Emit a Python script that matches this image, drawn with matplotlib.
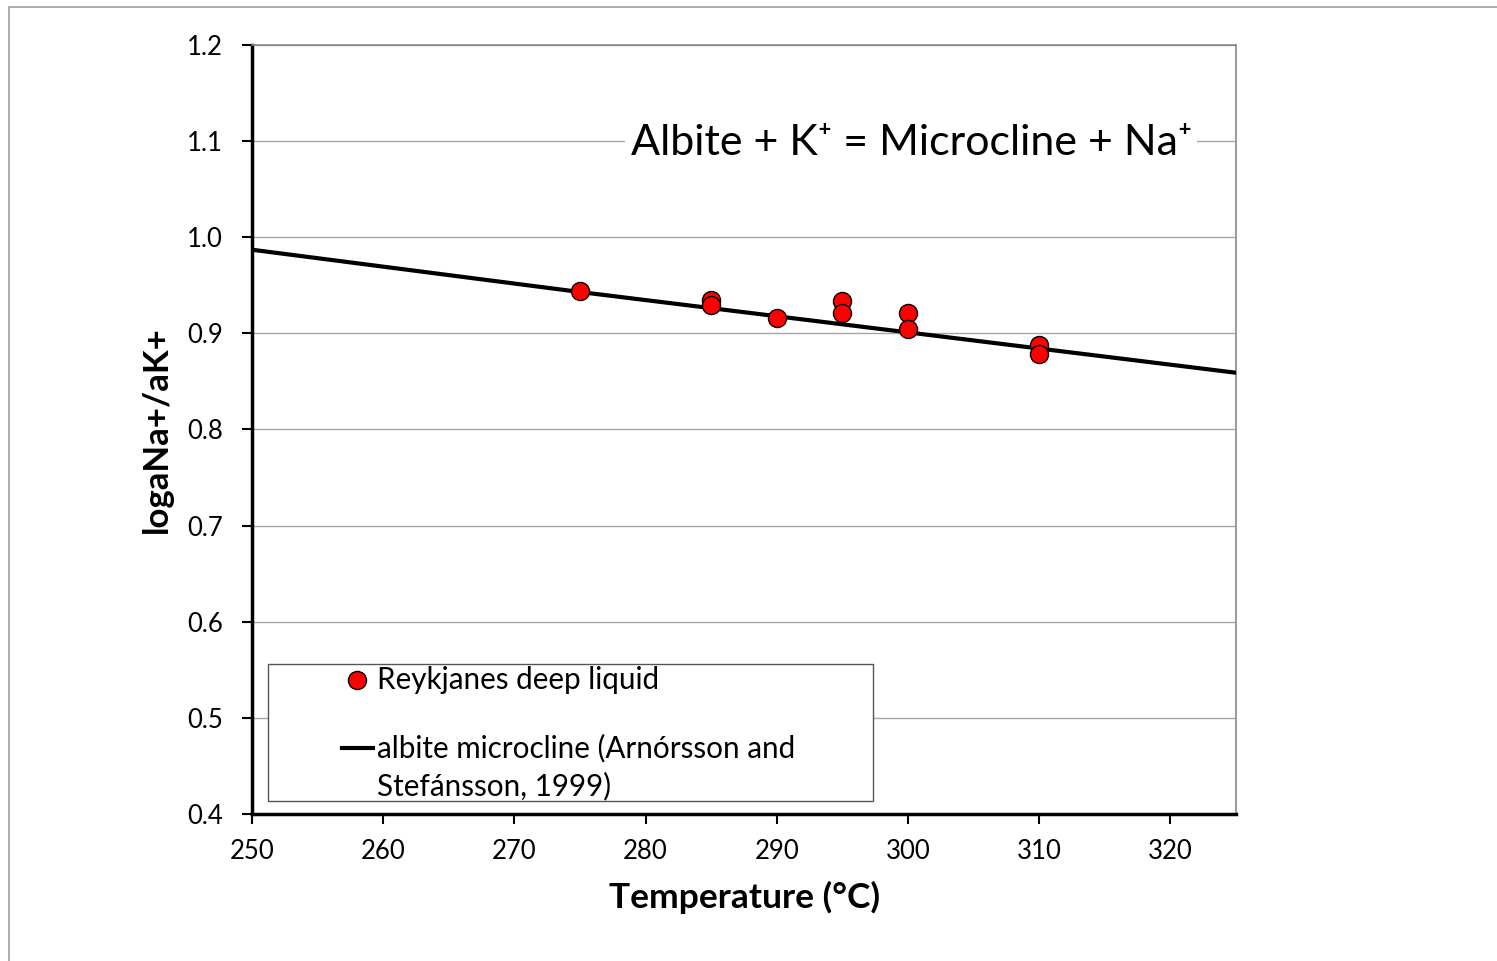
import matplotlib
matplotlib.use('Agg')
from matplotlib import pyplot as plt
from matplotlib.patches import Rectangle

plt.rcParams['font.family'] = ['Lato', 'DejaVu Sans']

# Reykjanes deep liquid samples
sample_temp = [275, 285, 285, 290, 295, 295, 300, 300, 310, 310]
sample_ratio = [0.944, 0.935, 0.930, 0.916, 0.934, 0.921, 0.921, 0.905, 0.888, 0.878]

# albite-microcline equilibrium (Arnorsson and Stefansson, 1999)
eq_temp = [250, 275, 300, 325]
eq_ratio = [0.987, 0.943, 0.901, 0.859]

x_ticks = [250, 260, 270, 280, 290, 300, 310, 320]
y_ticks = [0.4, 0.5, 0.6, 0.7, 0.8, 0.9, 1.0, 1.1, 1.2]

fig = plt.figure(figsize=(14.97, 9.61), dpi=100)
ax = fig.add_axes([0.1683, 0.1530, 0.6574, 0.8002])

# outer chart frame
fig.patches.append(Rectangle((0.006, -0.1), 1.2, 1.093, transform=fig.transFigure,
                             fill=False, edgecolor='#a0a0a0', linewidth=1.2))

ax.plot(eq_temp, eq_ratio, color='black', linewidth=3, zorder=3)
ax.plot(sample_temp, sample_ratio, linestyle='none', marker='o', markersize=13,
        markerfacecolor='#ff0000', markeredgecolor='black', markeredgewidth=1, zorder=4)

ax.set_xlim(250, 325)
ax.set_ylim(0.4, 1.2)
ax.set_xticks(x_ticks)
ax.set_yticks(y_ticks)
ax.set_yticklabels(['{:.1f}'.format(v) for v in y_ticks])
ax.tick_params(axis='both', labelsize=18.5, direction='out', length=7, width=1.5, color='black')
ax.tick_params(axis='x', pad=11)
ax.tick_params(axis='y', pad=14)

ax.grid(axis='y', color='#a6a6a6', linewidth=1)
ax.set_axisbelow(True)
for side in ['top', 'right']:
    ax.spines[side].set_color('#888888')
    ax.spines[side].set_linewidth(1.2)
for side in ['left', 'bottom']:
    ax.spines[side].set_color('black')
    ax.spines[side].set_linewidth(2.5)

ax.set_xlabel('Temperature (°C)', fontsize=25.5, fontweight='bold', labelpad=12)
ax.set_ylabel('logaNa+/aK+', fontsize=25, fontweight='bold', labelpad=10)

ax.text(0.955, 0.872, 'Albite + K\u207a = Microcline + Na\u207a', transform=ax.transAxes,
        fontsize=31, ha='right', va='center', zorder=5,
        bbox=dict(facecolor='white', edgecolor='none', pad=4))

# legend box, drawn by hand to match the layout
ax.add_patch(Rectangle((0.0163, 0.0169), 0.6148, 0.1781, transform=ax.transAxes,
                       facecolor='white', edgecolor='#555555', linewidth=1, zorder=6))
ax.plot([0.107], [0.1743], transform=ax.transAxes, linestyle='none', marker='o',
        markersize=13, markerfacecolor='#ff0000', markeredgecolor='black',
        markeredgewidth=1, zorder=7, clip_on=False)
ax.plot([0.0915, 0.123], [0.0858, 0.0858], transform=ax.transAxes, color='black',
        linewidth=3, zorder=7, clip_on=False)
ax.text(0.127, 0.1743, 'Reykjanes deep liquid', transform=ax.transAxes,
        fontsize=21.3, va='center', ha='left', zorder=7)
ax.text(0.127, 0.0611, 'albite microcline (Arnórsson and\nStefánsson, 1999)',
        transform=ax.transAxes, fontsize=21.3, va='center', ha='left',
        linespacing=1.4, zorder=7)

fig.savefig('out.png', dpi=100)
